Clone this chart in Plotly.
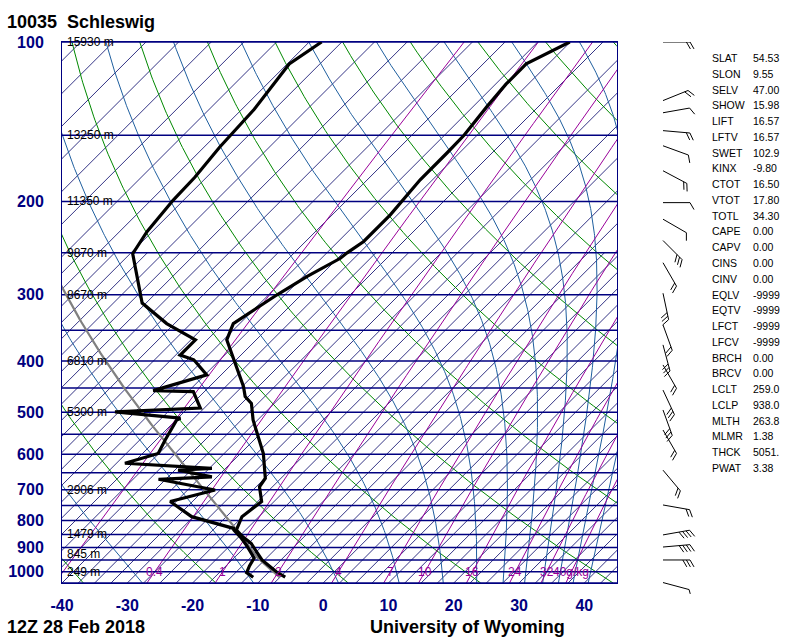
import numpy as np
import plotly.graph_objects as go

# ------------------------------------------------------------------ data
title_left = "10035  Schleswig"
time_text = "12Z 28 Feb 2018"
source_text = "University of Wyoming"

temp_p = [1024, 1000, 950, 884, 860, 834, 787, 737, 691, 666, 598, 517, 481, 467, 447,
          393, 365, 340, 318, 300, 277, 256, 250, 238, 212, 199, 182, 162, 150, 132,
          120, 113, 110, 100]
temp_c = [-6.7, -8.9, -12.9, -17.1, -19.3, -21.4, -22.6, -21.9, -24.5, -24.9, -29.0, -35.7,
          -38.5, -40.5, -42.3, -48.4, -52.0, -53.5, -52.2, -51.2, -49.4, -47.1, -46.9, -46.1,
          -46.1, -46.4, -46.9, -46.9, -47.0, -47.9, -48.4, -48.4, -48.4, -45.1]

dwpt_p = [1024, 1004, 975, 942, 890, 860, 834, 828, 787, 737, 701, 669, 662, 643, 638, 624,
          598, 564, 517, 513, 499, 491, 457, 455, 425, 398, 390, 365, 340, 311, 251, 228,
          199, 180, 158, 134, 110, 100]
dwpt_c = [-11.6, -13.3, -13.9, -14.4, -17.6, -19.7, -21.8, -22.1, -30.3, -35.9, -30.8, -41.1,
          -33.3, -39.5, -34.6, -48.7, -45.1, -46.1, -47.4, -47.1, -58.1, -45.6, -49.2, -55.5,
          -49.7, -54.0, -56.8, -56.8, -63.7, -70.6, -79.6, -80.8, -81.6, -81.8, -82.6, -83.1,
          -84.7, -83.1]

wind_p = [100, 129, 136, 147, 157, 175, 201, 216, 237, 261, 298, 342, 373, 407, 454, 495,
          540, 643, 748, 852, 898, 950, 1048]
wind_dir = [90, 68, 80, 95, 110, 118, 90, 120, 135, 150, 168, 160, 165, 150, 155, 160,
            150, 140, 100, 80, 85, 90, 105]
wind_kt = [20, 20, 10, 20, 10, 20, 10, 10, 30, 20, 30, 20, 30, 20, 30, 30,
           20, 20, 20, 40, 40, 30, 5]

height_p = [100, 150, 200, 250, 300, 400, 500, 700, 850, 925, 1000]
height_m = [15930, 13250, 11350, 9870, 8670, 6810, 5300, 2906, 1479, 845, 249]

pres_ticks = [100, 200, 300, 400, 500, 600, 700, 800, 900, 1000]
temp_ticks = [-40, -30, -20, -10, 0, 10, 20, 30, 40]

isobar_p = list(range(100, 1051, 50))
dry_theta_c = list(range(-40, 201, 20))
moist_top_theta_c = list(range(-30, 191, 20))
mixr_gkg = [0.1, 0.4, 1, 2, 4, 7, 10, 16, 24, 32, 40]
mixr_text = ["", "0.4", "1", "2", "4", "7", "10", "16", "24", "32", "40g/kg"]

stat_names = ["SLAT", "SLON", "SELV", "SHOW", "LIFT", "LFTV", "SWET", "KINX", "CTOT",
              "VTOT", "TOTL", "CAPE", "CAPV", "CINS", "CINV", "EQLV", "EQTV", "LFCT",
              "LFCV", "BRCH", "BRCV", "LCLT", "LCLP", "MLTH", "MLMR", "THCK", "PWAT"]
stat_values = ["54.53", "9.55", "47.00", "15.98", "16.57", "16.57", "102.9", "-9.80",
               "16.50", "17.80", "34.30", "0.00", "0.00", "0.00", "0.00", "-9999", "-9999",
               "-9999", "-9999", "0.00", "0.00", "259.0", "938.0", "263.8", "1.38",
               "5051.", "3.38"]

sfc_p = 1024.0
ml_theta_k = 263.8
ml_mixr_gkg = 1.38

# ------------------------------------------------------------------ thermo helpers
P0 = 1050.0
PTOP = 100.0
PX_PER_DEC = 541.0 / np.log10(P0 / PTOP)
PX_PER_C = 555.0 / 85.0
K = PX_PER_DEC / PX_PER_C          # skew so that isotherms run at 45 degrees
KAPPA = 0.2857

NAVY = "#000080"
GREEN = "#008800"
MBLUE = "#1f5f9f"
PURPLE = "#990099"
ISOT = "#000066"


def skew_x(t, p):
    return np.asarray(t, float) + K * np.log10(P0 / np.asarray(p, float))


def sat_vp(tc):
    return 6.112 * np.exp(17.67 * tc / (tc + 243.5))


def t_from_mixr(r, p):
    e = p * r / (622.0 + r)
    a = np.log(e / 6.112)
    return 243.5 * a / (17.67 - a)


def moist_dtdp(tk, p):
    es = sat_vp(tk - 273.15)
    rs = 0.622 * es / (p - es)
    num = 287.04 * tk + 2.501e6 * rs
    den = p * (1005.7 + 2.501e6 ** 2 * rs * 0.622 / (287.04 * tk ** 2))
    return num / den


def moist_path(tk0, pg):
    t = np.asarray(tk0, float)
    out = [t]
    for i in range(len(pg) - 1):
        pa, pb = pg[i], pg[i + 1]
        h = pb - pa
        k1 = moist_dtdp(t, pa)
        k2 = moist_dtdp(t + 0.5 * h * k1, pa + 0.5 * h)
        k3 = moist_dtdp(t + 0.5 * h * k2, pa + 0.5 * h)
        k4 = moist_dtdp(t + h * k3, pb)
        t = t + h * (k1 + 2 * k2 + 2 * k3 + k4) / 6.0
        out.append(t)
    return np.array(out)


fig = go.Figure()


def add_multi(xs, ys, color, width, xa="x", ya="y"):
    X, Y = [], []
    for x, y in zip(xs, ys):
        X.extend([float(v) for v in x]); X.append(None)
        Y.extend([float(v) for v in y]); Y.append(None)
    fig.add_trace(go.Scatter(x=X, y=Y, mode="lines", xaxis=xa, yaxis=ya,
                             line=dict(color=color, width=width),
                             hoverinfo="skip", showlegend=False))


# isotherms (thin diagonals)
xs, ys = [], []
for t0 in np.arange(-125, 46, 5.0):
    xs.append(skew_x([t0, t0], [P0, PTOP])); ys.append([P0, PTOP])
for t0 in np.arange(-122.5, 46, 5.0):
    xs.append(skew_x([t0, t0], [P0, 250])); ys.append([P0, 250])
add_multi(xs, ys, ISOT, 0.8)

pg = np.logspace(np.log10(P0), np.log10(PTOP), 160)

# dry adiabats
xs, ys = [], []
for th in dry_theta_c:
    t = (th + 273.15) * (pg / 1000.0) ** KAPPA - 273.15
    xs.append(skew_x(t, pg)); ys.append(pg)
add_multi(xs, ys, GREEN, 1.0)

# moist adiabats, identified by their potential temperature at 100 hPa
pgm = np.logspace(np.log10(P0), np.log10(PTOP), 300)
targets = (np.array(moist_top_theta_c, float) + 273.15) * (PTOP / 1000.0) ** KAPPA
lo = np.full(len(targets), 150.0)
hi = np.full(len(targets), 340.0)
for _ in range(42):
    mid = 0.5 * (lo + hi)
    top = moist_path(mid, pgm)[-1]
    warm = top > targets
    hi = np.where(warm, mid, hi)
    lo = np.where(warm, lo, mid)
prof = moist_path(0.5 * (lo + hi), pgm)
xs, ys = [], []
for j in range(prof.shape[1]):
    xs.append(skew_x(prof[:, j] - 273.15, pgm)); ys.append(pgm)
add_multi(xs, ys, MBLUE, 1.0)

# mixing ratio lines
xs, ys = [], []
for r in mixr_gkg:
    xs.append(skew_x(t_from_mixr(r, pg), pg)); ys.append(pg)
add_multi(xs, ys, PURPLE, 1.0)

# isobars
xs, ys = [], []
for p in isobar_p:
    xs.append([-40, 45]); ys.append([p, p])
add_multi(xs, ys, NAVY, 1.5)

# parcel path from mixed layer
pp = np.linspace(sfc_p, 400, 4000)
tdry = ml_theta_k * (pp / 1000.0) ** KAPPA
es = sat_vp(tdry - 273.15)
rs = 622.0 * es / (pp - es)
i_lcl = int(np.argmax(rs <= ml_mixr_gkg))
p_lcl = pp[i_lcl]
par_p = list(pp[:i_lcl + 1])
par_t = list(tdry[:i_lcl + 1] - 273.15)
pgp = np.logspace(np.log10(p_lcl), np.log10(PTOP), 200)
mp = moist_path(tdry[i_lcl], pgp)
par_p += list(pgp[1:]); par_t += list(mp[1:] - 273.15)
fig.add_trace(go.Scatter(x=skew_x(par_t, par_p), y=par_p, mode="lines",
                         line=dict(color="#808080", width=2.2),
                         hoverinfo="skip", showlegend=False))

# sounding
fig.add_trace(go.Scatter(x=skew_x(dwpt_c, dwpt_p), y=dwpt_p, mode="lines",
                         line=dict(color="black", width=3.2),
                         hoverinfo="skip", showlegend=False))
fig.add_trace(go.Scatter(x=skew_x(temp_c, temp_p), y=temp_p, mode="lines",
                         line=dict(color="black", width=3.2),
                         hoverinfo="skip", showlegend=False))

# wind barbs (x2 axis in pixel-like units, y2 log pressure with same scale)
STN_X = 663.0
xs, ys = [], []
for p, d, s in zip(wind_p, wind_dir, wind_kt):
    rad = np.deg2rad(d)
    ux, uy = np.sin(rad), np.cos(rad)
    ang = -np.deg2rad(60)
    fx = ux * np.cos(ang) - uy * np.sin(ang)
    fy = ux * np.sin(ang) + uy * np.cos(ang)
    L, FL, HL, SP = 27.0, 8.0, 4.5, 3.6
    segs = [((0.0, 0.0), (L * ux, L * uy))]
    nf = int(s // 10)
    nh = int((s % 10) // 5)
    pos = L
    for _ in range(nf):
        bx, by = pos * ux, pos * uy
        segs.append(((bx, by), (bx + FL * fx, by + FL * fy)))
        pos -= SP
    if nh:
        bx, by = pos * ux, pos * uy
        segs.append(((bx, by), (bx + HL * fx, by + HL * fy)))
    for (ax_, ay_), (bx_, by_) in segs:
        xs.append([STN_X + ax_, STN_X + bx_])
        ys.append([p * 10 ** (-ay_ / PX_PER_DEC), p * 10 ** (-by_ / PX_PER_DEC)])
add_multi(xs, ys, "black", 1.0, xa="x2", ya="y2")

# ------------------------------------------------------------------ layout
W, H = 800, 640
ML, MT, MB = 62, 42, 30
plot_w = W - ML
plot_h = H - MT - MB
y_dom0 = 1 - 541.0 / plot_h
y2_top_dec = plot_h / PX_PER_DEC


def px_x(X):
    return (X - ML) / plot_w


def px_y(Y):
    return (MT + plot_h - Y) / plot_h


FONT = "Liberation Sans, Arial, sans-serif"

annotations = []
for p, h in zip(height_p, height_m):
    annotations.append(dict(x=-39.6, y=np.log10(p), xref="x", yref="y", text=f"{h} m",
                            showarrow=False, xanchor="left", yanchor="middle",
                            font=dict(family=FONT, size=12, color="black")))
for r, lab in zip(mixr_gkg, mixr_text):
    if not lab:
        continue
    annotations.append(dict(x=float(skew_x(t_from_mixr(r, 1000.0), 1000.0)), y=3.0,
                            xref="x", yref="y", text=lab, showarrow=False,
                            xanchor="center", yanchor="middle",
                            font=dict(family=FONT, size=12, color=PURPLE)))
for i, (n, v) in enumerate(zip(stat_names, stat_values)):
    yy = px_y(58 + i * 15.77)
    annotations.append(dict(x=px_x(710), y=yy, xref="paper", yref="paper", text=n,
                            showarrow=False, xanchor="left", yanchor="middle",
                            font=dict(family=FONT, size=10.5, color="black")))
    annotations.append(dict(x=px_x(751), y=yy, xref="paper", yref="paper", text=v,
                            showarrow=False, xanchor="left", yanchor="middle",
                            font=dict(family=FONT, size=10.5, color="black")))
annotations.append(dict(x=px_x(5), y=px_y(22), xref="paper", yref="paper",
                        text="<b>" + title_left.replace("  ", "\u00a0\u00a0") + "</b>",
                        showarrow=False, xanchor="left",
                        yanchor="middle", font=dict(family=FONT, size=18, color="black")))
annotations.append(dict(x=px_x(5), y=px_y(627), xref="paper", yref="paper",
                        text=f"<b>{time_text}</b>", showarrow=False, xanchor="left",
                        yanchor="middle", font=dict(family=FONT, size=18, color="black")))
annotations.append(dict(x=px_x(368), y=px_y(627), xref="paper", yref="paper",
                        text=f"<b>{source_text}</b>", showarrow=False, xanchor="left",
                        yanchor="middle", font=dict(family=FONT, size=18, color="black")))

fig.update_layout(
    width=W, height=H,
    margin=dict(l=ML, r=0, t=MT, b=MB, pad=0),
    paper_bgcolor="white", plot_bgcolor="white",
    showlegend=False, hovermode=False,
    xaxis=dict(domain=[0, 555.0 / plot_w], range=[-40, 45], anchor="y",
               showgrid=False, zeroline=False, showline=True, mirror=True,
               linecolor=NAVY, linewidth=1, ticks="",
               tickvals=temp_ticks, ticktext=[f"<b>{t}</b>" for t in temp_ticks],
               tickfont=dict(family=FONT, size=16, color=NAVY), ticklabelstandoff=8),
    yaxis=dict(domain=[y_dom0, 1], type="log", range=[np.log10(P0), np.log10(PTOP)],
               anchor="x", showgrid=False, zeroline=False, showline=True, mirror=True,
               linecolor=NAVY, linewidth=1, ticks="",
               tickvals=pres_ticks, ticktext=[f"<b>{p}</b>" for p in pres_ticks],
               tickfont=dict(family=FONT, size=16, color=NAVY), ticklabelstandoff=14),
    xaxis2=dict(domain=[px_x(655), px_x(720)], range=[655, 720], anchor="y2",
                visible=False, fixedrange=True),
    yaxis2=dict(domain=[0, 1], type="log", range=[2 + y2_top_dec, 2], anchor="x2",
                visible=False, fixedrange=True),
    annotations=annotations,
)

fig.write_html("out.html", config={"displayModeBar": False},
               post_script="document.body.style.margin='0px';document.body.style.overflow='hidden';")
